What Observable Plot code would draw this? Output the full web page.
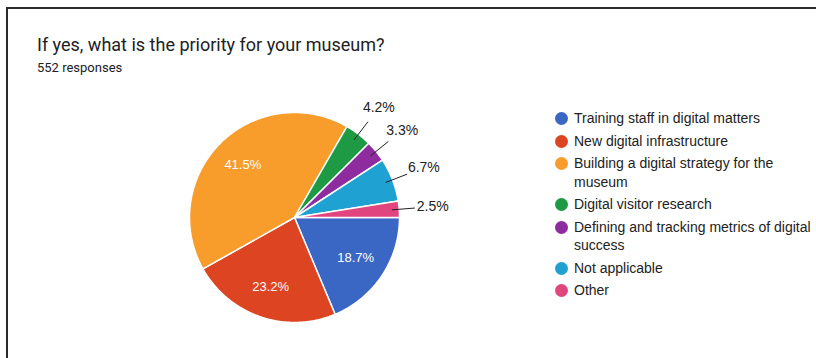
<!DOCTYPE html>
<html><head><meta charset="utf-8">
<script src="https://cdn.jsdelivr.net/npm/d3@7"></script>
<script src="https://cdn.jsdelivr.net/npm/@observablehq/plot@0.6"></script>
<style>
body{margin:0;background:#fff;}
#wrap{position:relative;width:816px;height:358px;overflow:hidden;background:#fff;}
#frame{position:absolute;left:6px;top:7px;width:900px;height:500px;border-top:2px solid #2b2b2b;border-left:2px solid #2b2b2b;}
#title{position:absolute;left:37px;top:34px;font-family:Roboto,Arial,sans-serif;font-size:18px;color:#202124;white-space:nowrap;}
#sub{position:absolute;left:37px;top:60px;font-family:Roboto,Arial,sans-serif;font-size:13px;color:#202124;white-space:nowrap;}
#chart{position:absolute;left:0;top:0;}
#legend{position:absolute;left:555px;top:109px;width:262px;font-family:Arial,"Liberation Sans",sans-serif;font-size:14px;color:#222;}
.item{display:flex;align-items:flex-start;line-height:18.5px;margin-bottom:4px;}
.dot{flex:none;width:13px;height:13px;border-radius:50%;margin-top:3px;margin-right:6px;}
</style></head>
<body>
<div id="wrap">
  <div id="frame"></div>
  <div id="title"></div>
  <div id="sub"></div>
  <div id="chart"></div>
  <div id="legend"></div>
</div>
<script>
const categories = ["Training staff in digital matters","New digital infrastructure","Building a digital strategy for the museum","Digital visitor research","Defining and tracking metrics of digital success","Not applicable","Other"];
const percents = [18.7, 23.2, 41.5, 4.2, 3.3, 6.7, 2.5];
const colors = ["#3b67c4","#dd4422","#f89c2c","#1e9a44","#8e2b9e","#1fa1d1","#e0467d"];
const titleText = "If yes, what is the priority for your museum?";
const subtitleText = "552 responses";

document.getElementById("title").textContent = titleText;
document.getElementById("sub").textContent = subtitleText;

// layout (pixels)
const W = 816, H = 358, CX = 294, CY = 217, R = 105;

const total = d3.sum(percents);
let acc = 0;
const slices = categories.map((name, i) => {
  const a0 = acc / total * 2 * Math.PI; acc += percents[i];
  const a1 = acc / total * 2 * Math.PI;
  return {name, value: percents[i], a0, a1, mid: (a0 + a1) / 2};
});
const pts = [];
for (const s of slices) {
  pts.push({name: s.name, u: 0, v: 0});
  const n = Math.max(2, Math.ceil((s.a1 - s.a0) / (Math.PI / 180)));
  for (let k = 0; k <= n; k++) {
    const a = s.a0 + (s.a1 - s.a0) * k / n;
    pts.push({name: s.name, u: Math.cos(a), v: -Math.sin(a)});
  }
}
const inside = slices.filter(s => s.value >= 10);
const outside = slices.filter(s => s.value < 10);
const fmt = d => d.value.toFixed(1) + "%";

const chart = Plot.plot({
  width: W, height: H,
  margin: 0,
  x: {domain: [-CX / R, (W - CX) / R], axis: null},
  y: {domain: [-(H - CY) / R, CY / R], axis: null},
  color: {domain: categories, range: colors},
  style: {background: "transparent"},
  marks: [
    Plot.line(pts, {x: "u", y: "v", z: "name", fill: "name", stroke: "white", strokeWidth: 1.5, curve: "linear-closed"}),
    Plot.text(inside, {x: d => 0.7 * Math.cos(d.mid), y: d => -0.7 * Math.sin(d.mid), text: fmt, fill: "white", fontSize: 13, fontFamily: "Arial, 'Liberation Sans', sans-serif"}),
    Plot.link(outside, {x1: d => 0.93 * Math.cos(d.mid), y1: d => -0.93 * Math.sin(d.mid), x2: d => 1.15 * Math.cos(d.mid), y2: d => -1.15 * Math.sin(d.mid), stroke: "#222", strokeWidth: 1}),
    Plot.text(outside, {x: d => 1.32 * Math.cos(d.mid), y: d => -1.32 * Math.sin(d.mid), text: fmt, fill: "#222", fontSize: 14, fontFamily: "Arial, 'Liberation Sans', sans-serif"})
  ]
});
document.getElementById("chart").appendChild(chart);

const legend = document.getElementById("legend");
categories.forEach((c, i) => {
  const it = document.createElement("div"); it.className = "item";
  const dot = document.createElement("span"); dot.className = "dot"; dot.style.background = colors[i];
  const tx = document.createElement("span"); tx.textContent = c;
  it.appendChild(dot); it.appendChild(tx); legend.appendChild(it);
});
</script>
</body></html>
